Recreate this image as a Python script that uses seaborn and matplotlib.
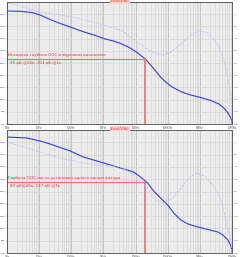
import numpy as np
import pandas as pd
import matplotlib
matplotlib.use("Agg")
import matplotlib.pyplot as plt
import seaborn as sns

# ---------------- data ----------------
freq_ticks = [1, 10, 100, 1e3, 1e4, 1e5, 1e6, 1e7]
freq_tick_labels = ["1Hz", "10Hz", "100Hz", "1KHz", "10KHz", "100KHz", "1MHz", "10MHz"]
db_ticks = [160, 140, 120, 100, 80, 60, 40, 20, 0, -20]
db_tick_labels = ["160dB", "140dB", "120dB", "100dB", "80dB", "60dB", "40dB", "20dB", "0dB", "-20dB"]
ph_ticks = [0, -20, -40, -60, -80, -100, -120, -140, -160, -180]
ph_tick_labels = ["0°", "-20°", "-40°", "-60°", "-80°", "-100°", "-120°", "-140°", "-160°", "-180°"]

# top panel (original)
top_mag_f = [1, 2.55, 6.0, 10.7, 22, 45, 93, 237, 560, 1150, 2050, 3400, 6000, 10700, 20000,
             29400, 42000, 60000, 86600, 124000, 178000, 255000, 365000, 523000, 1.07e6,
             2.2e6, 3.9e6, 5.6e6, 7.5e6, 9.3e6, 1e7]
top_mag_db = [165.2, 164.8, 162.8, 158.7, 151.3, 144.8, 139, 131.3, 125.1, 119.3, 116.1, 112,
              106.2, 98, 86.6, 76.7, 66.9, 57, 48.9, 42.3, 37.4, 33.3, 30, 27.5, 23.4,
              18.5, 12.8, 6.2, -2, -10.2, -18.4]
top_ph_f = [1.07, 2.55, 10.7, 45, 154, 806, 3400, 11500, 20500, 36500, 75000, 124000, 205000,
            365000, 650000, 1.07e6, 1.78e6, 3.2e6, 4.6e6, 6.5e6, 8.06e6, 9.3e6, 1e7]
top_ph_deg = [18.4, 13.4, 3.6, -1.3, -6.2, -16, -25.9, -45.6, -55.4, -63.6, -66.9, -62, -53.8,
              -42.3, -30.8, -27.5, -30.8, -45.6, -62, -88.2, -116, -140.7, -176.7]

# bottom panel (after one capacitor)
bot_mag_f = [1, 4.2, 10.7, 22, 93, 237, 800, 3400, 8660, 14300, 23700, 36500, 60000, 100000,
             154000, 255000, 422000, 866000, 1.78e6, 3.65e6, 5.2e6, 7.5e6, 9.3e6, 1e7]
bot_mag_db = [168.6, 167, 162.1, 157.2, 145.9, 136.1, 128, 118.2, 111.7, 103.6, 93.8, 80.8,
              69.4, 58, 45, 33.7, 27.2, 22.3, 18.2, 14.1, 9.3, 1.1, -8.7, -18.4]
bot_ph_f = [1, 2.55, 10.7, 45, 237, 800, 3400, 10000, 23700, 42200, 75000, 143000, 255000,
            523000, 866000, 1.54e6, 2.55e6, 4.6e6, 6.98e6, 9.3e6, 1e7]
bot_ph_deg = [0.5, -6, -15.8, -25.5, -33.7, -36.9, -40.2, -54.8, -74.3, -93.8, -98.7, -90.6,
              -74.3, -54.8, -49.9, -56.4, -69.4, -93.8, -134.5, -162.2, -178.5]

top_text1 = "Исходная глубина ООС в звуковом диапазоне"
top_text2 = "45 дБ @20к, 103 дБ @1к"
bot_text1 = "Глубина ООС после установки одного конденсатора"
bot_text2 = "80 дБ@20к, 127 дБ @1к"
trace_label = "V(out)/V(fb)"
marker_f = 20000
top_marker_db = 86.6
bot_marker_db = 96

# ---------------- style ----------------
sns.set_style("white")
plt.rcParams['font.family'] = ['DejaVu Sans']

W, H = 240, 257
fig = plt.figure(figsize=(W / 100, H / 100), dpi=100)

BLUE = "#3a3ae0"
LAV = "#c4c4ee"
RED = "#e83030"
RED_LINE = "#f27070"
BG = "#ececec"


def panel(rect, mf, mdb, pf, pdeg, t1, t2, mdb_line):
    ax = fig.add_axes(rect)
    ax.set_facecolor(BG)
    ax.set_xscale("log")
    ax.set_xlim(1, 1e7)
    ax.set_ylim(-20, 180)
    ax2 = ax.twinx()
    ax2.set_ylim(-180, 20)
    ax.grid(True, which="major", axis="x", color="#bdbdbd", lw=0.6)
    ax.grid(True, which="minor", axis="x", color="#d3d3d3", lw=0.45)
    ax.grid(True, which="major", axis="y", color="#d6d6d6", lw=0.5)
    ax.set_axisbelow(True)
    sns.lineplot(x=pf, y=pdeg, ax=ax2, color=LAV, lw=0.6, linestyle=(0, (3, 1.5)))
    sns.lineplot(x=mf, y=mdb, ax=ax, color=BLUE, lw=0.8)
    ax.plot([1, marker_f], [mdb_line, mdb_line], color=RED_LINE, lw=0.8)
    ax.plot([marker_f, marker_f], [-20, mdb_line], color=RED_LINE, lw=1.2)
    ax.text(1.1, mdb_line + 3.5, t1, color=RED, fontsize=2.9, va="bottom", ha="left")
    ax.text(1.25, mdb_line - 3, t2, color=RED, fontsize=2.9, va="top", ha="left")
    ax.set_xticks(freq_ticks)
    ax.set_xticklabels(freq_tick_labels)
    ax.set_yticks(db_ticks)
    ax.set_yticklabels(db_tick_labels)
    ax2.set_yticks(ph_ticks)
    ax2.set_yticklabels(ph_tick_labels)
    for a in (ax, ax2):
        a.tick_params(labelsize=1.6, length=0.8, width=0.3, pad=0.3, colors="#555555")
        a.tick_params(which="minor", length=0)
        for s in a.spines.values():
            s.set_color("#555555")
            s.set_linewidth(0.5)
    ax.tick_params(axis="x", labelsize=2.0)
    ax.set_xlabel("")
    ax.set_ylabel("")
    ax2.set_ylabel("")
    return ax


panel([7 / W, 1 - 124 / H, 225 / W, 122 / H], top_mag_f, top_mag_db, top_ph_f, top_ph_deg,
      top_text1, top_text2, top_marker_db)
panel([7 / W, 1 - 253 / H, 225 / W, 123 / H], bot_mag_f, bot_mag_db, bot_ph_f, bot_ph_deg,
      bot_text1, bot_text2, bot_marker_db)

for ytop in (1.2, 128.5):
    fig.text(120 / W, 1 - ytop / H, trace_label, color=RED, fontsize=2.4, ha="center", va="center",
             bbox=dict(boxstyle="square,pad=0.2", fc="#ffd0d0", ec="none"))

fig.savefig("out.png", dpi=100)
